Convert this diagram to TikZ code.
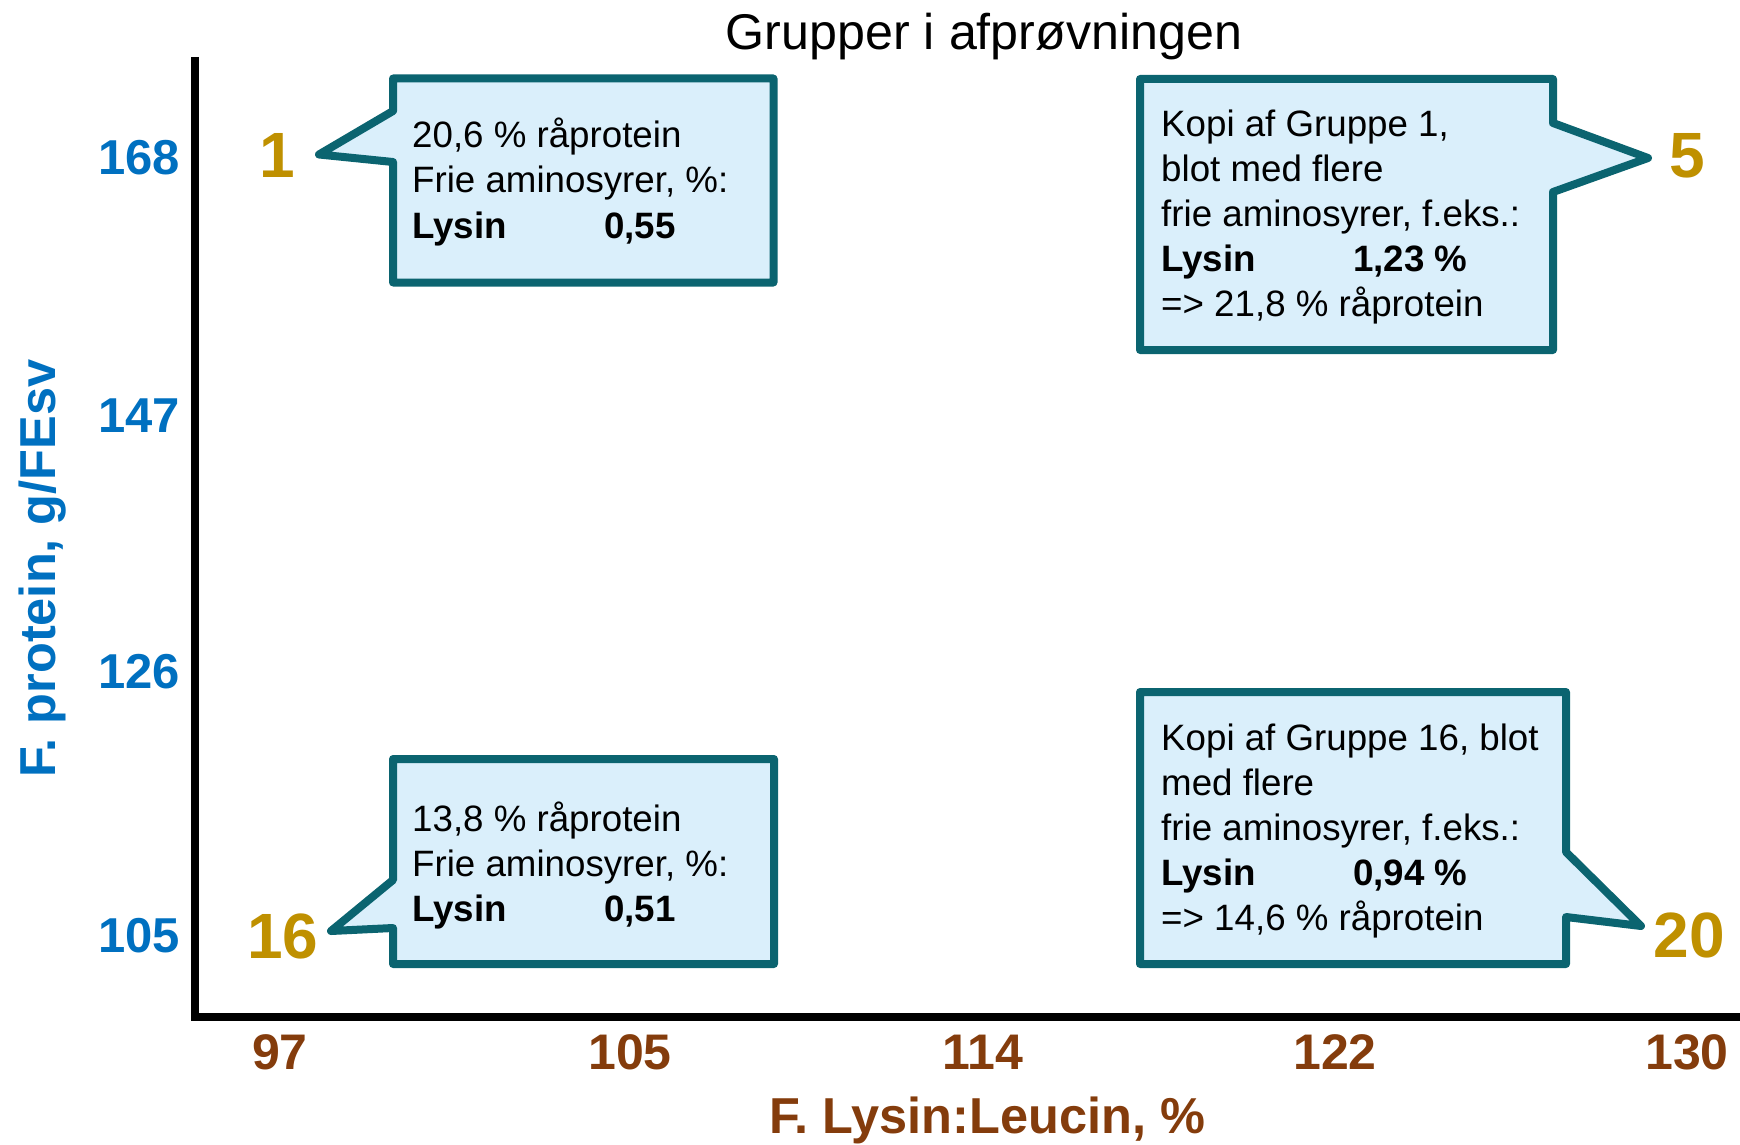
\documentclass[tikz,border=0pt]{standalone}
\usepackage{fontspec}
\setmainfont{Liberation Sans}
\definecolor{numgold}{HTML}{BF9000}
\definecolor{axisblue}{HTML}{0070C0}
\definecolor{axisbrown}{HTML}{843C0C}
\definecolor{calloutedge}{HTML}{0B6470}
\definecolor{calloutfill}{HTML}{DAEFFB}
\begin{document}
\begin{tikzpicture}[x=1pt,y=-1pt,
  callout/.style={draw=calloutedge, fill=calloutfill, line width=8pt, line join=round},
  ctext/.style={anchor=base west, inner sep=0pt, font=\fontsize{36.7}{45}\selectfont},
  num/.style={anchor=base, inner sep=0pt, text=numgold, font=\fontsize{64}{64}\selectfont\bfseries},
  ytick/.style={anchor=base east, inner sep=0pt, text=axisblue, font=\fontsize{49}{49}\selectfont\bfseries},
  xtick/.style={anchor=base, inner sep=0pt, text=axisbrown, font=\fontsize{50}{50}\selectfont\bfseries},
  axisline/.style={draw=black, line width=7.5pt, line join=miter}
]
\useasboundingbox (0,0) rectangle (1740,1145);

% title
\node[anchor=base, inner sep=0pt, font=\fontsize{50.2}{50.2}\selectfont] (title) at (984,50) {Grupper i afprøvningen};

% axes
\coordinate (ytop) at (195,57);
\coordinate (origin) at (195,1017);
\coordinate (xend) at (1740,1017);
\draw[axisline] (ytop) -- (origin) -- (xend);

% y tick labels
\node[ytick] (y168) at (180,175) {168};
\node[ytick] (y147) at (180,432) {147};
\node[ytick] (y126) at (180,688) {126};
\node[ytick] (y105) at (180,952) {105};

% x tick labels
\node[xtick] (x97)  at (280,1069) {97};
\node[xtick] (x105) at (630,1069) {105};
\node[xtick] (x114) at (983,1069) {114};
\node[xtick] (x122) at (1335,1069) {122};
\node[xtick] (x130) at (1687,1069) {130};

% axis titles
\node[anchor=base, inner sep=0pt, text=axisbrown, font=\fontsize{50.5}{50.5}\selectfont\bfseries] (xtitle) at (987,1133) {F. Lysin:Leucin, \%};
\node[anchor=base, inner sep=0pt, rotate=90, text=axisblue, font=\fontsize{50.5}{50.5}\selectfont\bfseries] (ytitle) at (55,568.5) {F. protein, g/FEsv};

% callout group 1
\draw[callout] (393,78.5) -- (773.5,78.5) -- (773.5,282.5) -- (393,282.5) -- (393,162) -- (319,154.5) -- (393,111) -- cycle;
\node[ctext] (t1) at (412,148) {\begin{tabular}[t]{@{}l@{}}20,6 \% råprotein\\Frie aminosyrer, \%:\\\makebox[192pt][l]{\bfseries Lysin}\textbf{0,55}\end{tabular}};
\node[num] (n1) at (277,178) {1};

% callout group 5
\draw[callout] (1140,79) -- (1553,79) -- (1553,123) -- (1648,158) -- (1553,192) -- (1553,350) -- (1140,350) -- cycle;
\node[ctext] (t5) at (1161,136.5) {\begin{tabular}[t]{@{}l@{}}Kopi af Gruppe 1,\\blot med flere\\frie aminosyrer, f.eks.:\\\makebox[192pt][l]{\bfseries Lysin}\textbf{1,23 \%}\\=> 21,8 \% råprotein\end{tabular}};
\node[num] (n5) at (1687,178) {5};

% callout group 16
\draw[callout] (393,759) -- (774,759) -- (774,964) -- (393,964) -- (393,928) -- (331,931) -- (393,880) -- cycle;
\node[ctext] (t16) at (412,831.5) {\begin{tabular}[t]{@{}l@{}}13,8 \% råprotein\\Frie aminosyrer, \%:\\\makebox[192pt][l]{\bfseries Lysin}\textbf{0,51}\end{tabular}};
\node[num] (n16) at (283,958) {16};

% callout group 20
\draw[callout] (1140,692) -- (1566,692) -- (1566,852) -- (1641,926) -- (1566,917) -- (1566,964) -- (1140,964) -- cycle;
\node[ctext] (t20) at (1161,750) {\begin{tabular}[t]{@{}l@{}}Kopi af Gruppe 16, blot\\med flere\\frie aminosyrer, f.eks.:\\\makebox[192pt][l]{\bfseries Lysin}\textbf{0,94 \%}\\=> 14,6 \% råprotein\end{tabular}};
\node[num] (n20) at (1689,957) {20};
\end{tikzpicture}
\end{document}
